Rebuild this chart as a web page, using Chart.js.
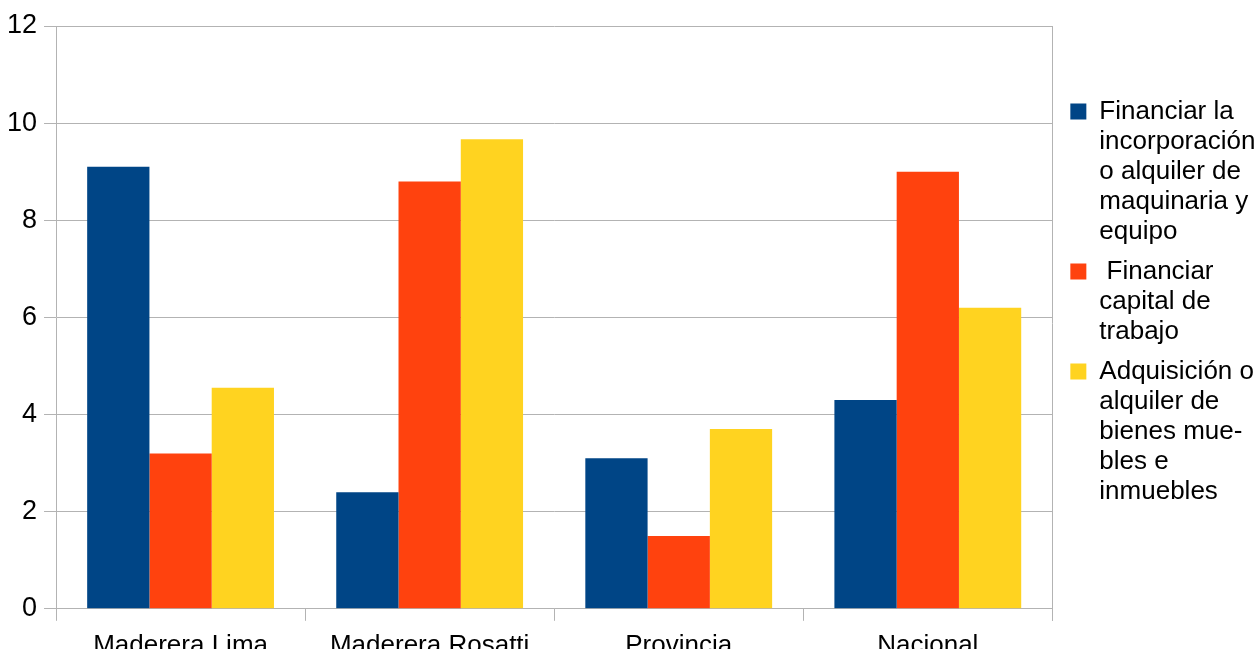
<!DOCTYPE html>
<html>
<head>
<meta charset="utf-8">
<script src="https://cdn.jsdelivr.net/npm/chart.js@4/dist/chart.umd.min.js"></script>
<style>
  html, body { margin: 0; padding: 0; background: #fff; overflow: hidden; }
  #wrap { position: relative; width: 1258px; height: 680px; }
</style>
</head>
<body>
<div id="wrap"><canvas id="myChart"></canvas></div>
<script>
const categories = ["Maderera Lima", "Maderera Rosatti", "Provincia", "Nacional"];
const seriesNames = [
  "Financiar la incorporación o alquiler de maquinaria y equipo",
  " Financiar capital de trabajo",
  "Adquisición o alquiler de bienes muebles e inmuebles",
];
// legend text broken in lines like the original
const legendLines = [
  ["Financiar la", "incorporación", "o alquiler de", "maquinaria y", "equipo"],
  [" Financiar", "capital de", "trabajo"],
  ["Adquisición o", "alquiler de", "bienes mue-", "bles e", "inmuebles"],
];
const maquinaria = [9.1, 2.4, 3.1, 4.3];
const capital = [3.2, 8.8, 1.5, 9.0];
const bienes = [4.55, 9.67, 3.7, 6.2];
const yTicks = [0, 2, 4, 6, 8, 10, 12];

const colors = ["#004586", "#ff420e", "#ffd320"];
const gridColor = "#b3b3b3";
const fontFamily = "'Liberation Sans', Arial, sans-serif";

// frame on the right side of the plot area
const frame = {
  id: "frame",
  beforeDatasetsDraw(chart) {
    const a = chart.chartArea;
    const ctx = chart.ctx;
    ctx.save();
    ctx.strokeStyle = gridColor;
    ctx.lineWidth = 1;
    ctx.beginPath();
    ctx.moveTo(Math.round(a.right) + 0.5, a.top);
    ctx.lineTo(Math.round(a.right) + 0.5, a.bottom + 12);
    ctx.stroke();
    ctx.restore();
  },
};

new Chart("myChart", {
  type: "bar",
  data: {
    labels: categories,
    datasets: [maquinaria, capital, bienes].map((d, i) => ({
      label: seriesNames[i],
      data: d,
      backgroundColor: colors[i],
      borderWidth: 0,
      categoryPercentage: 0.75,
      barPercentage: 1,
    })),
  },
  options: {
    responsive: true,
    maintainAspectRatio: false,
    animation: false,
    layout: { padding: { left: 0, top: 26, right: -6, bottom: 10 } },
    plugins: {
      title: { display: false },
      tooltip: { enabled: false },
      legend: {
        position: "right",
        align: "start",
        title: { display: true, text: "", padding: { top: 48, bottom: 0 } },
        labels: {
          boxWidth: 16,
          boxHeight: 16,
          padding: 10,
          color: "#000",
          font: { family: fontFamily, size: 26, lineHeight: 30 / 26 },
          generateLabels(chart) {
            return chart.data.datasets.map((ds, i) => ({
              text: legendLines[i],
              fillStyle: ds.backgroundColor,
              strokeStyle: ds.backgroundColor,
              fontColor: "#000",
              lineWidth: 0,
              hidden: false,
              datasetIndex: i,
            }));
          },
        },
      },
    },
    scales: {
      x: {
        offset: true,
        grid: {
          offset: true,
          drawOnChartArea: false,
          drawTicks: true,
          tickLength: 12,
          color: gridColor,
        },
        border: { color: gridColor },
        ticks: {
          color: "#000",
          padding: 9,
          maxRotation: 0,
          font: { family: fontFamily, size: 26 },
        },
      },
      y: {
        min: 0,
        max: 12,
        afterBuildTicks(axis) {
          axis.ticks = yTicks.map((v) => ({ value: v }));
        },
        grid: { color: gridColor, tickLength: 12 },
        border: { color: gridColor },
        ticks: {
          color: "#000",
          padding: 7,
          font: { family: fontFamily, size: 27 },
        },
      },
      // empty spacer between plot and legend
      y2: {
        position: "right",
        grid: {
          drawOnChartArea: false,
          drawTicks: true,
          tickLength: 8,
          color: "rgba(0,0,0,0)",
        },
        border: { display: false },
        ticks: { display: false },
      },
    },
  },
  plugins: [frame],
});
</script>
</body>
</html>
